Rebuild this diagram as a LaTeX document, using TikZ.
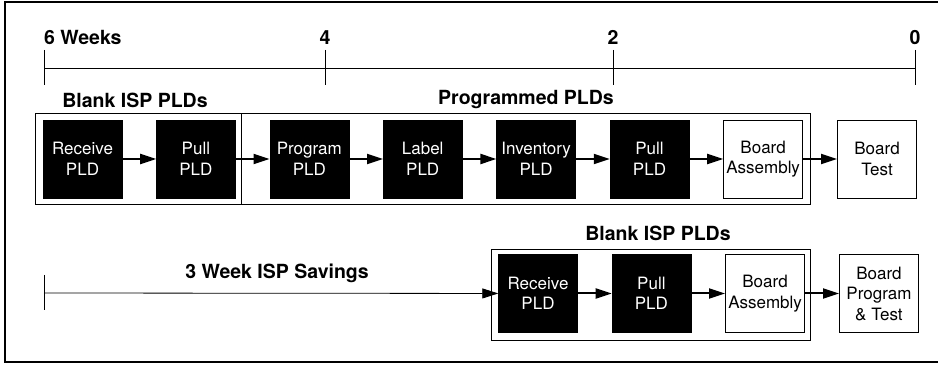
\documentclass[tikz,border=0pt]{standalone}
\usepackage{fontspec}
\setmainfont{TeX Gyre Heros}
\usetikzlibrary{positioning,arrows.meta}

\begin{document}
\begin{tikzpicture}[
  x=1pt, y=-1pt,
  font=\fontsize{17}{20.5}\selectfont,
  node distance=34pt,
  darkbox/.style={draw=black, fill=black, text=white, minimum width=79pt, minimum height=78pt, align=center, inner sep=0pt},
  lightbox/.style={draw=black, line width=0.9pt, fill=white, minimum width=79pt, minimum height=78pt, align=center, inner sep=0pt},
  heading/.style={font=\fontsize{19.5}{23}\selectfont\bfseries, inner sep=0pt},
  group/.style={draw=black, line width=0.9pt},
  arrow/.style={-{Triangle[length=16pt, width=10pt]}, line width=2pt},
  axis/.style={line width=0.8pt}
]
\useasboundingbox (0,0) rectangle (938,366);
\draw[line width=1.2pt] (938,2) -- (5,2) -- (5,362) -- (938,362);

% time scale
\draw[axis] (44,68) -- (915,68);
\foreach \x in {44,325,613,915} \draw[axis] (\x,50) -- (\x,85);
\node[heading, anchor=base west] (wk6) at (44,45) {6 Weeks};
\node[heading, anchor=base] (wk4) at (325,45) {4};
\node[heading, anchor=base] (wk2) at (613,45) {2};
\node[heading, anchor=base] (wk0) at (915,45) {0};

% conventional flow
\node[heading] (blank1) at (135,100) {Blank ISP PLDs};
\node[heading] (progd) at (526,100) {Programmed PLDs};
\draw[group] (35,113) rectangle (241,204);
\draw[group] (241,113) rectangle (810,204);
\node[darkbox] (rcv1) at (82.5,159) {Receive\\PLD};
\node[darkbox, right=of rcv1] (pull1) {Pull\\PLD};
\node[darkbox, right=of pull1] (prog) {Program\\PLD};
\node[darkbox, right=of prog] (lbl) {Label\\PLD};
\node[darkbox, right=of lbl] (inv) {Inventory\\PLD};
\node[darkbox, right=of inv] (pull2) {Pull\\PLD};
\node[lightbox, right=of pull2] (asm1) {Board\\Assembly};
\node[lightbox, right=of asm1] (test) {Board\\Test};
\draw[arrow] (rcv1) -- (pull1);
\draw[arrow] (pull1) -- (prog);
\draw[arrow] (prog) -- (lbl);
\draw[arrow] (lbl) -- (inv);
\draw[arrow] (inv) -- (pull2);
\draw[arrow] (pull2) -- (asm1);
\draw[arrow] (asm1) -- (test);

% ISP flow
\node[heading] (savings) at (277,273) {3 Week ISP Savings};
\coordinate (sv) at (44,293);
\draw[axis] (44,275) -- (44,310);
\node[heading] (blank2) at (658,233) {Blank ISP PLDs};
\draw[group] (491,249) rectangle (810,340);
\node[darkbox] (rcv2) at (538,293.5) {Receive\\PLD};
\node[darkbox, right=of rcv2] (pull3) {Pull\\PLD};
\node[lightbox, right=of pull3] (asm2) {Board\\Assembly};
\node[lightbox, right=of asm2] (bpt) {Board\\Program\\\& Test};
\draw[arrow, line width=0.8pt] (sv) -- (rcv2);
\draw[arrow] (rcv2) -- (pull3);
\draw[arrow] (pull3) -- (asm2);
\draw[arrow] (asm2) -- (bpt);
\end{tikzpicture}
\end{document}
